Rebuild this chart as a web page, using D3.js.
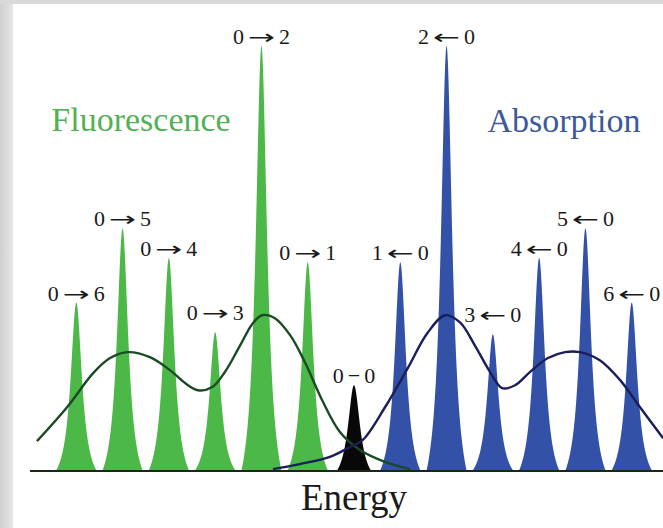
<!DOCTYPE html>
<html>
<head>
<meta charset="utf-8">
<script src="https://cdn.jsdelivr.net/npm/d3@7"></script>
<style>
  body { margin: 0; background: #fff; }
  svg { display: block; }
</style>
</head>
<body>
<div id="chart"></div>
<script>
// vibronic peaks, energy in vibrational quanta from the 0-0 line, intensity relative to the strongest
var fluorEnergy = [-1, -2, -3, -4, -5, -6]
var fluorIntensity = [0.49, 1.0, 0.325, 0.50, 0.57, 0.395]
var fluorLabels = ["0 → 1", "0 → 2", "0 → 3", "0 → 4", "0 → 5", "0 → 6"]

var absEnergy = [1, 2, 3, 4, 5, 6]
var absIntensity = [0.49, 1.0, 0.32, 0.50, 0.57, 0.395]
var absLabels = ["1 ← 0", "2 ← 0", "3 ← 0", "4 ← 0", "5 ← 0", "6 ← 0"]

var originEnergy = [0]
var originIntensity = [0.20]
var originLabels = ["0 − 0"]

// broad envelopes
var fluorEnvE = [-6.85, -6.20, -5.64, -5.27, -4.88, -4.41, -3.97, -3.65, -3.37, -3.07, -2.79, -2.46, -2.20, -1.99, -1.71, -1.38, -1.06, -0.69, -0.30, 0.13, 0.67, 1.21]
var fluorEnvI = [0.068, 0.148, 0.228, 0.264, 0.278, 0.266, 0.235, 0.205, 0.188, 0.195, 0.231, 0.294, 0.344, 0.365, 0.358, 0.318, 0.254, 0.165, 0.089, 0.047, 0.019, 0.002]
var absEnvE = [-1.75, -1.17, -0.52, -0.09, 0.19, 0.67, 1.17, 1.58, 1.97, 2.29, 2.61, 2.94, 3.20, 3.48, 3.80, 4.19, 4.56, 4.88, 5.31, 5.75, 6.18, 6.68]
var absEnvI = [0.002, 0.014, 0.031, 0.054, 0.071, 0.148, 0.242, 0.322, 0.365, 0.348, 0.294, 0.231, 0.193, 0.200, 0.231, 0.264, 0.278, 0.278, 0.259, 0.212, 0.148, 0.075]

var W = 663, H = 528
var serif = "'Liberation Serif', 'Times New Roman', serif"

var svg = d3.select("#chart").append("svg")
  .attr("width", W)
  .attr("height", H)

// grey frame of the original screenshot
var grad = svg.append("defs").append("linearGradient").attr("id", "edge")
grad.append("stop").attr("offset", "0%").attr("stop-color", "#cfcfcf")
grad.append("stop").attr("offset", "100%").attr("stop-color", "#e6e6e6")
svg.append("rect").attr("x", 0).attr("y", 0).attr("width", 13).attr("height", H).attr("fill", "url(#edge)")
svg.append("rect").attr("x", 0).attr("y", 0).attr("width", W).attr("height", 4).attr("fill", "#d9d9d9")

var x = d3.scaleLinear().domain([-7, 7]).range([30, 678])
var y = d3.scaleLinear().domain([0, 1]).range([470, 46])

// truncated lorentzian line shape
function peakPath(e, h, g, cut) {
  var lc = g * g / (cut * cut + g * g)
  var pts = d3.range(-cut, cut + 0.0001, cut / 80).map(function(d) {
    var l = g * g / (d * d + g * g)
    return [e + d, h * Math.max(0, (l - lc) / (1 - lc))]
  })
  return d3.area()
    .x(function(d) { return x(d[0]) })
    .y0(y(0))
    .y1(function(d) { return y(d[1]) })(pts)
}

function drawPeaks(energy, inten, color, g, cut) {
  svg.append("g").selectAll("path")
    .data(energy)
    .enter()
    .append("path")
      .attr("d", function(d, i) { return peakPath(d, inten[i], g, cut) })
      .attr("fill", color)
}

drawPeaks(fluorEnergy, fluorIntensity, "#4cb848", 0.15, 0.43)
drawPeaks(absEnergy, absIntensity, "#3451a8", 0.15, 0.43)
drawPeaks(originEnergy, originIntensity, "#080808", 0.16, 0.36)

// envelopes
var envLine = d3.line()
  .x(function(d) { return x(d[0]) })
  .y(function(d) { return y(d[1]) })
  .curve(d3.curveCatmullRom)

svg.append("path")
  .attr("d", envLine(d3.zip(fluorEnvE, fluorEnvI)))
  .attr("fill", "none")
  .attr("stroke", "#1b4a26")
  .attr("stroke-width", 2.4)

svg.append("path")
  .attr("d", envLine(d3.zip(absEnvE, absEnvI)))
  .attr("fill", "none")
  .attr("stroke", "#1b1e5a")
  .attr("stroke-width", 2.4)

// energy axis
svg.append("line")
  .attr("x1", x(-7)).attr("x2", W)
  .attr("y1", y(0) + 1).attr("y2", y(0) + 1)
  .attr("stroke", "#1a261c")
  .attr("stroke-width", 2)

// peak labels: level, arrow, level
function drawLabels(energy, inten, labels) {
  var t = svg.append("g").selectAll("text")
    .data(labels)
    .enter()
    .append("text")
      .attr("x", function(d, i) { return x(energy[i]) })
      .attr("y", function(d, i) {
        var lift = Math.abs(energy[i]) == 3 ? 12 : 2
        return y(inten[i]) - lift
      })
      .attr("text-anchor", "middle")
      .style("font-family", serif)
      .style("font-size", "22px")
      .style("fill", "#1a1a1a")
  t.append("tspan").text(function(d) { return d.split(" ")[0] })
  t.each(function(d) {
    var mid = d3.select(this).append("tspan")
      .attr("dx", 4)
      .text(d.split(" ")[1])
    if (d.split(" ")[1] != "−") {
      mid.attr("textLength", 27)
        .attr("lengthAdjust", "spacingAndGlyphs")
        .style("font-family", "'DejaVu Sans', sans-serif")
        .style("font-size", "20px")
    }
  })
  t.append("tspan")
    .attr("dx", 4)
    .text(function(d) { return d.split(" ")[2] })
}
drawLabels(fluorEnergy, fluorIntensity, fluorLabels)
drawLabels(absEnergy, absIntensity, absLabels)
drawLabels(originEnergy, originIntensity, originLabels)

svg.append("text")
  .attr("x", 141).attr("y", 131)
  .attr("text-anchor", "middle")
  .style("font-family", serif)
  .style("font-size", "34px")
  .style("fill", "#52b055")
  .text("Fluorescence")

svg.append("text")
  .attr("x", 564).attr("y", 132)
  .attr("text-anchor", "middle")
  .style("font-family", serif)
  .style("font-size", "34px")
  .style("fill", "#3c5a9a")
  .text("Absorption")

svg.append("text")
  .attr("x", x(0)).attr("y", 510)
  .attr("text-anchor", "middle")
  .style("font-family", serif)
  .style("font-size", "37px")
  .style("fill", "#1a1a1a")
  .text("Energy")
</script>
</body>
</html>
